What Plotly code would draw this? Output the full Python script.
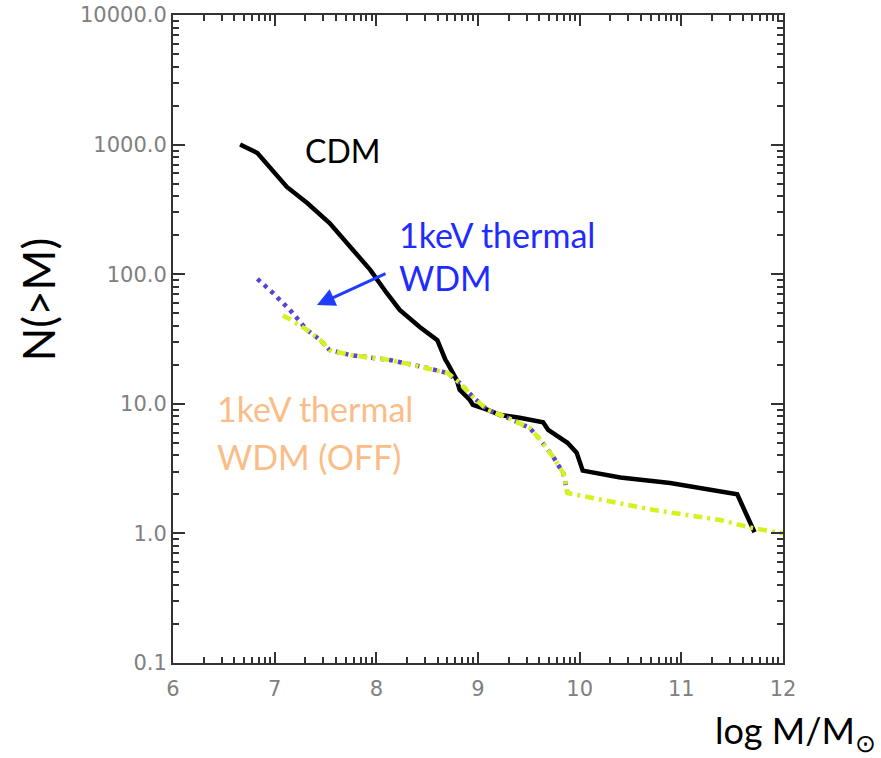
import numpy as np
import plotly.graph_objects as go

# ---- data ----
cdm_logm = [6.66, 6.83, 7.12, 7.32, 7.54, 7.74, 7.94, 8.10, 8.23, 8.43, 8.60, 8.68,
            8.70, 8.79, 8.82, 8.92, 8.95, 9.09, 9.22, 9.41, 9.64, 9.69, 9.88, 9.97,
            10.03, 10.40, 10.89, 11.55, 11.70, 11.72]
cdm_n = [1000, 861, 471, 354, 248, 162, 108, 72, 53, 39, 31, 21.8,
         20.6, 15.3, 12.8, 10.7, 9.8, 9.0, 8.2, 7.8, 7.2, 6.3, 5.0, 4.2,
         3.05, 2.7, 2.45, 2.0, 1.12, 1.02]

wdm_logm = [6.83, 6.98, 7.15, 7.32, 7.45, 7.54, 7.74, 8.13, 8.46, 8.70, 8.82, 8.95,
            9.09, 9.29, 9.51, 9.61, 9.74, 9.84, 9.88]
wdm_n = [92, 72, 53, 37, 31, 26, 23.8, 21.8, 19.2, 17.3, 14.5, 11.3,
         9.0, 7.8, 6.5, 5.3, 3.9, 2.9, 2.05]

off_logm = [7.08, 7.15, 7.32, 7.45, 7.54, 7.74, 8.13, 8.46, 8.70, 8.82, 8.95,
            9.09, 9.29, 9.51, 9.61, 9.74, 9.84, 9.88, 10.07, 10.72, 11.38, 11.70, 12.0]
off_n = [48, 45, 37, 31, 26, 23.8, 21.8, 19.2, 17.3, 14.5, 11.3,
         9.0, 7.8, 6.5, 5.3, 3.9, 2.9, 2.05, 1.91, 1.52, 1.27, 1.10, 1.0]

x_ticks = [6, 7, 8, 9, 10, 11, 12]
y_ticks = [0.1, 1, 10, 100, 1000, 10000]
y_ticktext = ["0.1", "1.0", "10.0", "100.0", "1000.0", "10000.0"]

x_minor = [n + np.log10(k) for n in range(6, 12) for k in range(2, 10)]
y_minor = [k * 10.0 ** n for n in range(-1, 4) for k in range(2, 10)]

# ---- figure ----
fig = go.Figure()
fig.add_trace(go.Scatter(x=cdm_logm, y=cdm_n, mode="lines",
                         line=dict(color="black", width=4.5)))
fig.add_trace(go.Scatter(x=wdm_logm, y=wdm_n, mode="lines",
                         line=dict(color="#5a42d2", width=4.5, dash="4px,5px")))
fig.add_trace(go.Scatter(x=off_logm, y=off_n, mode="lines",
                         line=dict(color="#d6f21e", width=4.5,
                                   dash="9px,5px,3px,5px")))

tickfont = dict(family="DejaVu Sans", size=21, color="#808080")
fig.update_layout(
    width=881, height=758,
    margin=dict(l=173, r=98, t=15, b=95),
    paper_bgcolor="white", plot_bgcolor="white",
    showlegend=False,
    xaxis=dict(range=[6, 12], tickmode="array", tickvals=x_ticks,
               ticks="inside", ticklen=11, tickwidth=2, tickcolor="#333333",
               showline=True, linecolor="#333333", linewidth=2, mirror="ticks",
               showgrid=False, zeroline=False, tickfont=tickfont,
               automargin=False, ticklabelstandoff=6,
               minor=dict(tickvals=x_minor, ticks="inside", ticklen=6,
                          tickwidth=2, tickcolor="#333333", showgrid=False)),
    yaxis=dict(type="log", range=[-1, 4], tickmode="array", tickvals=y_ticks,
               ticktext=y_ticktext, automargin=False,
               ticks="inside", ticklen=12, tickwidth=2, tickcolor="#333333",
               showline=True, linecolor="#333333", linewidth=2, mirror="ticks",
               showgrid=False, zeroline=False, tickfont=tickfont,
               minor=dict(tickvals=y_minor, ticks="inside", ticklen=6,
                          tickwidth=2, tickcolor="#333333", showgrid=False)),
)

ann_font = "Lato"
fig.add_annotation(x=7.672, y=2.958, text="CDM", showarrow=False,
                   font=dict(family=ann_font, size=32, color="black"))
fig.add_annotation(x=8.203, y=2.310, text="1keV thermal", showarrow=False,
                   xanchor="left", font=dict(family=ann_font, size=34, color="#1f2cff"))
fig.add_annotation(x=8.203, y=1.971, text="WDM", showarrow=False,
                   xanchor="left", font=dict(family=ann_font, size=34, color="#1f2cff"))
fig.add_annotation(x=6.413, y=0.960, text="1keV thermal", showarrow=False,
                   xanchor="left", font=dict(family=ann_font, size=34, color="#fbbd88"))
fig.add_annotation(x=6.413, y=0.590, text="WDM (OFF)", showarrow=False,
                   xanchor="left", font=dict(family=ann_font, size=34, color="#fbbd88"))
# arrow
fig.add_annotation(x=7.416, y=1.762, ax=8.105, ay=2.009, axref="x", ayref="y",
                   text="", showarrow=True, arrowhead=2, arrowsize=1.2,
                   arrowwidth=3, arrowcolor="#1f3cff")

# axis titles
fig.add_annotation(xref="paper", yref="paper", x=-0.221, y=0.56,
                   xanchor="center", yanchor="middle",
                   text="N(>M)", showarrow=False, textangle=-90,
                   font=dict(family=ann_font, size=44, color="black"))
fig.add_annotation(xref="paper", yref="paper", x=1.02, y=-0.108,
                   xanchor="center", yanchor="middle",
                   text="log M/M<sub>\u2299</sub>", showarrow=False,
                   font=dict(family=ann_font, size=36, color="black"))

fig.write_html("out.html")
